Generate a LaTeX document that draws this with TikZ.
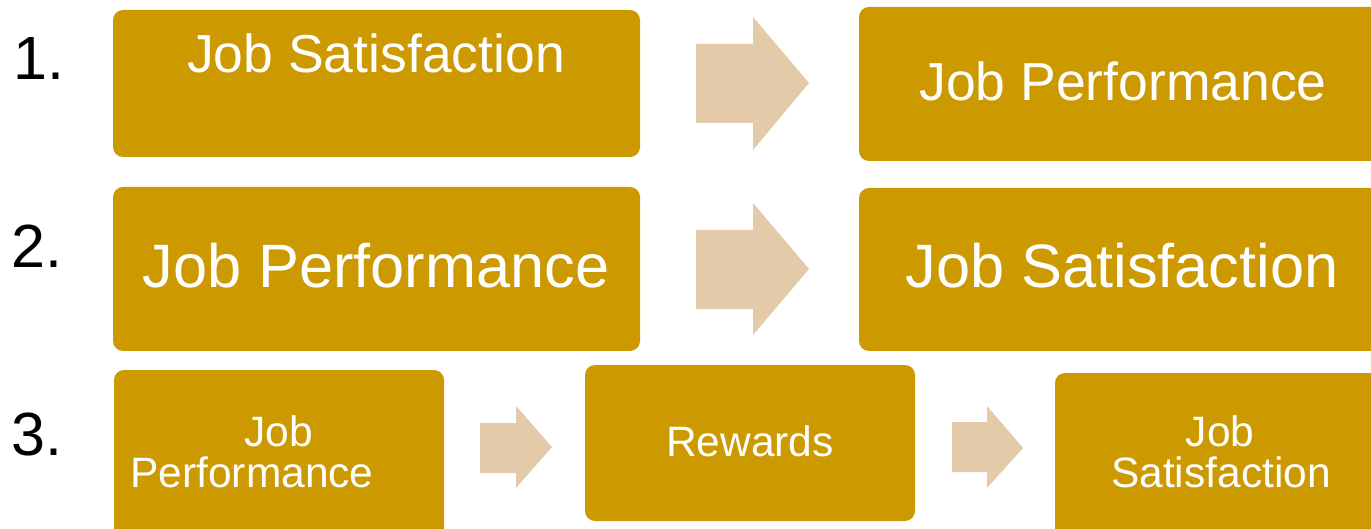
\documentclass[tikz,border=0pt]{standalone}
\usepackage{fontspec}
\setmainfont{Liberation Sans}
\definecolor{boxgold}{RGB}{204,153,0}
\definecolor{arrowtan}{RGB}{227,203,170}
\begin{document}
\begin{tikzpicture}[x=1pt,y=-1pt,
  box/.style={fill=boxgold, rounded corners=10pt, inner sep=0pt, outer sep=0pt, anchor=north west},
  blockarrow/.style={fill=arrowtan},
  boxtext/.style={text=white, anchor=base, inner sep=0pt},
  bigtext/.style={boxtext, font=\fontsize{61.3}{66}\selectfont},
  midtext/.style={boxtext, font=\fontsize{53.5}{58}\selectfont},
  smalltext/.style={boxtext, font=\fontsize{42.5}{46}\selectfont},
  numtext/.style={anchor=base west, inner sep=0pt, font=\fontsize{61}{64}\selectfont}]
\useasboundingbox (0,0) rectangle (1371,529);
\fill[white] (0,0) rectangle (1371,529);
\clip (0,0) rectangle (1371,529);

% row numbers
\node[numtext] (n1) at (13,80) {1.};
\node[numtext] (n2) at (11,268) {2.};
\node[numtext] (n3) at (11,455) {3.};

% row 1: satisfaction -> performance
\node[box, minimum width=527pt, minimum height=147pt] (r1a) at (113,10) {};
\node[box, minimum width=540pt, minimum height=154pt] (r1b) at (859,7) {};
\node[midtext] (t1a) at (376,73) {Job Satisfaction};
\node[midtext] (t1b) at (1123,101) {Job Performance};
\fill[blockarrow] (696,44) -- (753,44) -- (753,17) -- (809,83) -- (753,150)
  -- (753,123) -- (696,123) -- cycle;

% row 2: performance -> satisfaction
\node[box, minimum width=527pt, minimum height=164pt] (r2a) at (113,187) {};
\node[box, minimum width=540pt, minimum height=163pt] (r2b) at (859,188) {};
\node[bigtext] (t2a) at (376,288) {Job Performance};
\node[bigtext] (t2b) at (1122,288) {Job Satisfaction};
\fill[blockarrow] (696,230) -- (753,230) -- (753,203) -- (809,269) -- (753,335)
  -- (753,309) -- (696,309) -- cycle;

% row 3: performance -> rewards -> satisfaction
\node[box, minimum width=330pt, minimum height=175pt] (r3a) at (114,370) {};
\node[box, minimum width=330pt, minimum height=156pt] (r3b) at (585,365) {};
\node[box, minimum width=340pt, minimum height=170pt] (r3c) at (1055,373) {};
\node[smalltext] (t3a1) at (279,446) {Job};
\node[smalltext] (t3a2) at (252,487) {Performance};
\node[smalltext] (t3b) at (750,456) {Rewards};
\node[smalltext] (t3c1) at (1220,446) {Job};
\node[smalltext] (t3c2) at (1221,487) {Satisfaction};
\fill[blockarrow] (480,423) -- (516,423) -- (516,406) -- (552,447) -- (516,488)
  -- (516,473) -- (480,473) -- cycle;
\fill[blockarrow] (952,422) -- (987,422) -- (987,406) -- (1023,448) -- (987,488)
  -- (987,472) -- (952,472) -- cycle;
\end{tikzpicture}
\end{document}
